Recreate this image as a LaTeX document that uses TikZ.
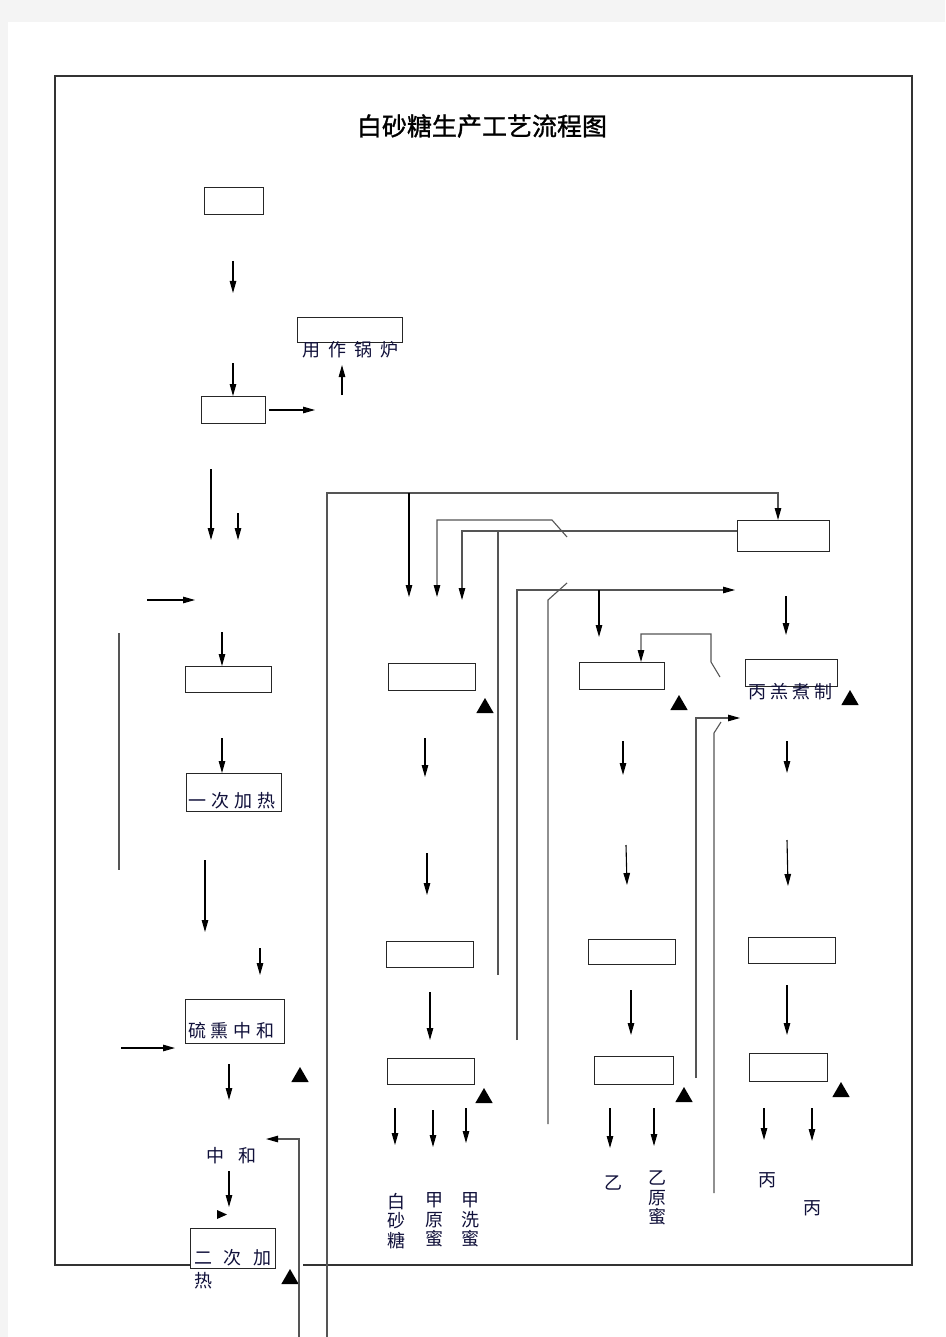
\documentclass[tikz,border=0pt]{standalone}
\usepackage{fontspec}
\setmainfont{Noto Sans CJK SC}
\newfontfamily\titlefont[FakeBold=1.2]{Noto Sans CJK SC}
\usetikzlibrary{arrows.meta,shapes.geometric}
\definecolor{pagegray}{HTML}{F4F4F4}
\definecolor{linegray}{HTML}{555555}
\definecolor{txt}{HTML}{10103A}
\begin{document}
\begin{tikzpicture}[x=1pt,y=-1pt,
  box/.style={draw=black!85,line width=1pt,inner sep=0pt,outer sep=0pt,fill=white},
  arr/.style={draw=black,line width=1.1pt,-{Triangle[length=12pt,width=6.5pt]}},
  pline/.style={draw=linegray,line width=1.1pt},
  parr/.style={pline,-{Triangle[length=12pt,width=6.5pt,color=black]}},
  tri/.style={regular polygon,regular polygon sides=3,fill=black,inner sep=0pt,minimum size=20pt},
  lbl/.style={font=\fontsize{18}{18}\selectfont,inner sep=0pt,text=txt},
  vlbl/.style={font=\fontsize{18}{19.5}\selectfont,inner sep=0pt,text=txt,align=center},
]
\useasboundingbox (0,0) rectangle (945,1337);
\fill[pagegray] (0,0) rectangle (945,1337);
\fill[white] (8,22) rectangle (945,1337);
\draw[black!80,line width=1.2pt] (190,1265) -- (55,1265) -- (55,76) -- (912,76) -- (912,1265) -- (303,1265);

% title
\node[font=\titlefont\fontsize{25}{25}\selectfont,inner sep=0pt] (title) at (482,126) {白砂糖生产工艺流程图};

% boxes
\node[box,minimum width=59pt,minimum height=27pt] (b1) at (233.5,201.5) {};
\node[box,minimum width=64pt,minimum height=27pt] (b2) at (233,409.5) {};
\node[box,minimum width=105pt,minimum height=25pt] (bg) at (349.5,329.5) {};
\node[box,minimum width=86pt,minimum height=26pt] (b3) at (228,679) {};
\node[box,minimum width=95pt,minimum height=38pt] (b4) at (233.5,792) {};
\node[box,minimum width=99pt,minimum height=44pt] (b5) at (234.5,1021) {};
\node[box,minimum width=85pt,minimum height=40pt] (b6) at (232.5,1248) {};
\node[box,minimum width=87pt,minimum height=27pt] (m1) at (431.5,676.5) {};
\node[box,minimum width=87pt,minimum height=26pt] (m2) at (429.5,954) {};
\node[box,minimum width=87pt,minimum height=26pt] (m3) at (430.5,1071) {};
\node[box,minimum width=85pt,minimum height=27pt] (y1) at (621.5,675.5) {};
\node[box,minimum width=87pt,minimum height=25pt] (y2) at (631.5,951.5) {};
\node[box,minimum width=79pt,minimum height=28pt] (y3) at (633.5,1070) {};
\node[box,minimum width=92pt,minimum height=31pt] (t0) at (783,535.5) {};
\node[box,minimum width=92pt,minimum height=27pt] (p1) at (791,672.5) {};
\node[box,minimum width=87pt,minimum height=26pt] (p2) at (791.5,950) {};
\node[box,minimum width=78pt,minimum height=28pt] (p3) at (788,1067) {};

% labels
\node[lbl] (lg) at (350.5,350) {用\hspace{7.7pt}作\hspace{7.7pt}锅\hspace{7.7pt}炉};
\node[lbl] (l4) at (232,801) {一\hspace{5.3pt}次\hspace{5.3pt}加\hspace{5.3pt}热};
\node[lbl] (l5) at (231.5,1031) {硫\hspace{5pt}熏\hspace{5pt}中\hspace{5pt}和};
\node[lbl] (lz1) at (215,1156) {中};
\node[lbl] (lz2) at (247,1156) {和};
\node[lbl] (l6) at (233,1258) {二\hspace{12pt}次\hspace{12pt}加};
\node[lbl] (l6b) at (203,1281) {热};
\node[lbl] (lp1) at (790.5,692) {丙\hspace{4.3pt}羔\hspace{4.3pt}煮\hspace{4.3pt}制};
\node[vlbl] (o1) at (396,1221) {白\\砂\\糖};
\node[vlbl] (o2) at (434,1220) {甲\\原\\蜜};
\node[vlbl] (o3) at (470,1220) {甲\\洗\\蜜};
\node[lbl] (o4) at (613,1183) {乙};
\node[vlbl] (o5) at (657,1198) {乙\\原\\蜜};
\node[lbl] (o6) at (767,1180) {丙};
\node[lbl] (o7) at (812,1208) {丙};

% triangles
\node[tri] (tr1) at (300,1077) {};
\node[tri] (tr2) at (290,1279) {};
\node[tri] (tr3) at (485,708) {};
\node[tri] (tr4) at (484,1098) {};
\node[tri] (tr5) at (679,705) {};
\node[tri] (tr6) at (684,1097) {};
\node[tri] (tr7) at (850,700) {};
\node[tri] (tr8) at (841,1092) {};

% left column arrows
\draw[arr] (233,261) -- (233,293);
\draw[arr] (233,363) -- (233,363 |- b2.north);
\draw[arr] (269,410) -- (315,410);
\draw[arr] (342,395) -- (342,365);
\draw[arr] (211,469) -- (211,540);
\draw[arr] (238,513) -- (238,540);
\draw[arr] (147,600) -- (195,600);
\draw[pline] (119,633) -- (119,870);
\draw[arr] (222,632) -- (222,632 |- b3.north);
\draw[arr] (222,738) -- (222,738 |- b4.north);
\draw[arr] (205,860) -- (205,932);
\draw[arr] (260,948) -- (260,975);
\draw[arr] (121,1048) -- (175,1048);
\draw[arr] (229,1064) -- (229,1100);
\draw[arr] (229,1171) -- (229,1207);
\fill[black] (217,1210) -- (227,1214.5) -- (217,1219) -- cycle;
\draw[parr] (299,1337) -- (299,1139) -- (266,1139);

% big loops
\draw[parr] (327,1337) -- (327,493) -- (778,493) -- (778,493 |- t0.north);
\draw[arr] (409,493) -- (409,597);
\draw[parr] (567,537) -- (552,520) -- (437,520) -- (437,597);
\draw[parr] ([yshift=4.5pt]t0.west) -- (462,531) -- (462,600);
\draw[pline] (498,531) -- (498,975);
\draw[parr] (517,1040) -- (517,590) -- (735,590);
\draw[pline] (548,1124) -- (548,600) -- (567,583);
\draw[parr] (720,677) -- (711,662) -- (711,634) -- (641,634) -- (641,634 |- y1.north);
\draw[parr] (696,1078) -- (696,718) -- (740,718);
\draw[pline] (714,1193) -- (714,733) -- (721,722);

% middle column arrows
\draw[arr] (425,738) -- (425,777);
\draw[arr] (427,853) -- (427,895);
\draw[arr] (430,992) -- (430,1040);
\draw[arr] (395,1108) -- (395,1145);
\draw[arr] (433,1110) -- (433,1147);
\draw[arr] (466,1108) -- (466,1143);

% yi column arrows
\draw[arr] (599,590) -- (599,637);
\draw[arr] (623,741) -- (623,775);
\draw[arr] (626,845) -- (627,885);
\draw[arr] (631,990) -- (631,1035);
\draw[arr] (610,1108) -- (610,1148);
\draw[arr] (654,1108) -- (654,1146);

% bing column arrows
\draw[arr] (786,596) -- (786,635);
\draw[arr] (787,741) -- (787,773);
\draw[arr] (787,840) -- (788,886);
\draw[arr] (787,985) -- (787,1035);
\draw[arr] (764,1108) -- (764,1140);
\draw[arr] (812,1108) -- (812,1141);
\end{tikzpicture}
\end{document}
